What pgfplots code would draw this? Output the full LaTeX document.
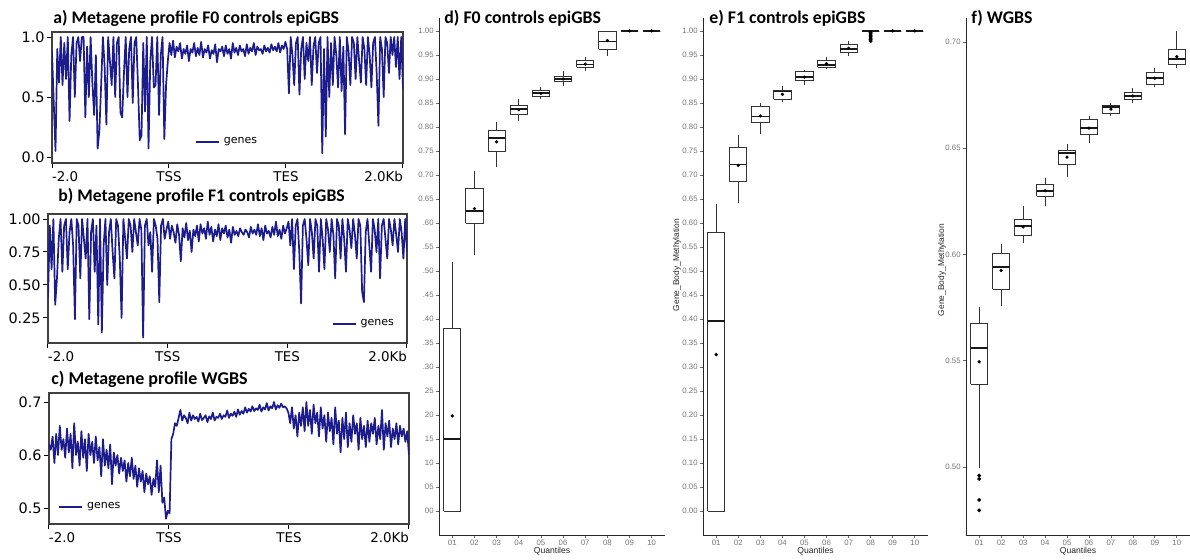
\documentclass[border=0pt]{standalone}
\usepackage{pgfplots}
\pgfplotsset{compat=1.18}
\usepackage{pgfplotstable}
\usepackage{fontspec}
\setmainfont{DejaVu Sans}
\newfontfamily\titlefont{Carlito}
\newfontfamily\arialfont{Liberation Sans}
\definecolor{navy}{RGB}{28,28,140}

\pgfplotstableread[row sep=\\]{
y\\
0.88\\0.45\\0.05\\0.90\\0.62\\1.00\\0.60\\0.95\\0.65\\1.00\\
0.30\\0.85\\1.00\\0.50\\0.95\\1.00\\0.80\\1.00\\1.00\\0.33\\
0.92\\0.50\\1.00\\0.62\\0.35\\0.85\\0.07\\0.22\\0.60\\1.00\\
0.75\\0.27\\1.00\\0.80\\0.60\\1.00\\0.50\\0.95\\1.00\\0.37\\
0.33\\0.70\\1.00\\0.50\\0.90\\1.00\\0.45\\0.95\\1.00\\0.60\\
0.14\\0.18\\0.95\\0.38\\1.00\\0.07\\0.80\\1.00\\0.58\\0.60\\
1.00\\0.35\\0.85\\1.00\\0.15\\0.60\\0.80\\
0.95\\0.85\\0.97\\
0.83\\0.92\\0.88\\0.95\\0.82\\0.90\\0.86\\0.93\\0.80\\0.90\\
0.87\\0.95\\0.84\\0.91\\0.85\\0.96\\0.83\\0.90\\0.87\\0.93\\
0.82\\0.89\\0.86\\0.94\\0.79\\0.90\\0.88\\0.92\\0.84\\0.93\\
0.86\\0.90\\0.82\\0.95\\0.87\\0.91\\0.85\\0.93\\0.88\\0.90\\
0.84\\0.94\\0.86\\0.91\\0.88\\0.95\\0.85\\0.92\\0.89\\0.90\\
0.86\\0.93\\0.88\\0.91\\0.87\\0.94\\0.89\\0.92\\0.88\\0.95\\
0.87\\0.93\\0.90\\0.96\\
0.90\\0.53\\1.00\\0.85\\0.60\\0.95\\
1.00\\0.52\\0.90\\1.00\\0.65\\0.95\\0.80\\1.00\\0.60\\0.92\\
1.00\\0.70\\0.95\\1.00\\0.03\\0.90\\0.17\\1.00\\0.50\\0.95\\
0.60\\1.00\\0.85\\0.58\\1.00\\0.55\\0.92\\0.19\\1.00\\0.88\\
0.60\\1.00\\0.95\\0.65\\1.00\\0.80\\0.62\\1.00\\0.90\\0.60\\
1.00\\0.85\\0.58\\0.95\\1.00\\0.70\\0.26\\1.00\\0.90\\0.50\\
1.00\\0.95\\0.70\\1.00\\0.85\\1.00\\0.75\\1.00\\0.65\\1.00\\
0.57\\
}\tabA

\pgfplotstableread[row sep=\\]{
y\\
0.40\\0.95\\0.62\\1.00\\0.35\\0.55\\0.85\\1.00\\0.60\\0.95\\
1.00\\0.62\\0.90\\1.00\\0.80\\0.24\\1.00\\0.95\\0.55\\1.00\\
0.85\\0.70\\1.00\\0.24\\0.90\\1.00\\0.60\\0.95\\0.20\\1.00\\
0.14\\0.80\\1.00\\0.50\\0.90\\1.00\\0.75\\0.55\\1.00\\0.95\\
0.70\\0.25\\1.00\\0.85\\0.70\\1.00\\0.95\\0.75\\1.00\\0.90\\
0.80\\1.00\\0.92\\0.10\\0.95\\1.00\\0.80\\0.90\\0.60\\1.00\\
0.95\\0.85\\0.37\\0.95\\1.00\\0.85\\0.92\\
0.98\\0.85\\0.95\\
0.90\\0.82\\0.96\\0.88\\0.68\\0.93\\0.86\\0.97\\0.84\\0.91\\
0.75\\0.92\\0.87\\0.95\\0.83\\0.96\\0.89\\0.93\\0.85\\0.98\\
0.88\\0.94\\0.83\\0.92\\0.87\\0.96\\0.84\\0.93\\0.89\\0.95\\
0.86\\0.92\\0.82\\0.94\\0.88\\0.91\\0.87\\0.93\\0.90\\0.88\\
0.92\\0.90\\0.86\\0.94\\0.89\\0.92\\0.88\\0.96\\0.87\\0.93\\
0.84\\0.95\\0.89\\0.91\\0.86\\0.94\\0.88\\0.98\\0.87\\0.92\\
0.85\\0.95\\0.89\\0.93\\
0.98\\0.80\\1.00\\0.62\\0.95\\1.00\\
0.75\\0.36\\0.95\\1.00\\0.85\\0.65\\1.00\\0.90\\0.70\\1.00\\
0.95\\0.60\\1.00\\0.85\\0.62\\1.00\\0.92\\0.75\\1.00\\0.88\\
0.55\\1.00\\0.95\\0.70\\1.00\\0.85\\0.60\\1.00\\0.92\\0.78\\
1.00\\0.88\\0.70\\1.00\\0.95\\0.45\\0.37\\0.90\\1.00\\0.80\\
0.60\\1.00\\0.92\\0.75\\1.00\\0.55\\0.95\\1.00\\0.85\\0.70\\
1.00\\0.92\\0.80\\1.00\\0.88\\0.75\\1.00\\0.90\\0.70\\1.00\\
0.75\\
}\tabB

\pgfplotstableread[row sep=\\]{
y\\
0.620\\0.610\\0.635\\0.585\\0.640\\0.600\\0.655\\0.610\\0.630\\0.595\\
0.650\\0.605\\0.640\\0.575\\0.660\\0.600\\0.625\\0.580\\0.645\\0.595\\
0.630\\0.570\\0.640\\0.600\\0.625\\0.585\\0.635\\0.590\\0.615\\0.560\\
0.630\\0.580\\0.610\\0.575\\0.620\\0.545\\0.605\\0.580\\0.600\\0.565\\
0.595\\0.570\\0.590\\0.550\\0.585\\0.560\\0.595\\0.555\\0.580\\0.540\\
0.575\\0.550\\0.570\\0.530\\0.565\\0.545\\0.560\\0.525\\0.555\\0.540\\
0.590\\0.530\\0.580\\0.510\\0.520\\0.480\\0.495\\
0.490\\0.630\\0.640\\
0.660\\0.655\\0.670\\0.685\\0.665\\0.675\\0.670\\0.660\\0.680\\0.665\\
0.675\\0.668\\0.672\\0.663\\0.678\\0.666\\0.670\\0.675\\0.662\\0.673\\
0.668\\0.680\\0.665\\0.672\\0.670\\0.678\\0.668\\0.675\\0.672\\0.684\\
0.670\\0.678\\0.674\\0.682\\0.672\\0.686\\0.676\\0.683\\0.678\\0.690\\
0.680\\0.687\\0.682\\0.692\\0.683\\0.688\\0.685\\0.695\\0.682\\0.690\\
0.686\\0.698\\0.684\\0.692\\0.688\\0.700\\0.686\\0.694\\0.689\\0.697\\
0.690\\0.692\\0.688\\0.680\\
0.660\\0.690\\0.650\\0.675\\0.635\\0.680\\
0.655\\0.690\\0.645\\0.700\\0.655\\0.685\\0.640\\0.695\\0.660\\0.680\\
0.635\\0.690\\0.650\\0.675\\0.625\\0.680\\0.645\\0.670\\0.620\\0.690\\
0.640\\0.665\\0.605\\0.670\\0.630\\0.680\\0.615\\0.660\\0.625\\0.675\\
0.640\\0.660\\0.610\\0.670\\0.630\\0.655\\0.615\\0.665\\0.625\\0.660\\
0.640\\0.670\\0.620\\0.655\\0.630\\0.685\\0.610\\0.660\\0.635\\0.665\\
0.615\\0.650\\0.630\\0.660\\0.620\\0.655\\0.635\\0.650\\0.625\\0.645\\
0.600\\
}\tabC

\pgfplotsset{
  meta/.style={scale only axis, anchor=south west, xmin=0, xmax=3,
    xtick={0,1,2,3},
    xticklabels={\makebox[0pt][l]{-2.0},TSS,TES,\makebox[0pt][r]{2.0Kb}},
    tick pos=left, tick align=outside, major tick length=2.5pt,
    tick style={black, line width=0.5pt},
    axis line style={black!75, line width=0.6pt},
    yticklabel style={font=\fontsize{7.2}{8}\selectfont, inner sep=1pt},
    xticklabel style={font=\fontsize{6.7}{8}\selectfont, inner sep=1.5pt},
    legend style={draw=none, fill=none, font=\fontsize{5.5}{6}\selectfont, inner sep=0pt},
    legend image code/.code={\draw[##1] (0pt,0pt) -- (11.5pt,0pt);},
  },
  qbox/.style={scale only axis, anchor=south west, xmin=0.4, xmax=10.6,
    xtick={1,2,3,4,5,6,7,8,9,10},
    xticklabels={01,02,03,04,05,06,07,08,09,10},
    axis lines=left, axis line style={-, black!85, line width=0.5pt},
    tick align=outside, major tick length=1.5pt,
    tick style={black!60, line width=0.4pt},
    ticklabel style={font=\arialfont\fontsize{3.9}{4.5}\selectfont, text=black!55},
    xticklabel style={inner sep=1pt}, yticklabel style={inner sep=1pt},
    clip=false,
  },
  boxline/.style={draw=black!80, line width=0.45pt, line join=miter, mark=none, forget plot},
  medline/.style={draw=black!90, line width=0.9pt, mark=none, forget plot},
}
% #1 left, #2 centre, #3 right, #4 lower whisker, #5 lower quartile, #6 median, #7 upper quartile, #8 upper whisker
\newcommand{\qbox}[8]{%
\addplot[boxline] coordinates {(#2,#4) (#2,#5)};
\addplot[boxline] coordinates {(#2,#7) (#2,#8)};
\addplot[boxline] coordinates {(#1,#5) (#3,#5) (#3,#7) (#1,#7) (#1,#5)};
\addplot[medline] coordinates {(#1,#6) (#3,#6)};
}

\begin{document}
\begin{tikzpicture}
% ---------- a ----------
\begin{axis}[meta, at={(26pt,198pt)}, width=175.5pt, height=65.5pt,
  ymin=-0.05, ymax=1.042, ytick={0,0.5,1}, yticklabels={0.0,0.5,1.0},
  legend style={at={(0.407,0.16)}, anchor=west}]
\addplot[navy, line width=0.85pt, line join=round] table[x expr=\coordindex*0.015, y=y]{\tabA};
\addlegendentry{genes}
\end{axis}
% ---------- b ----------
\begin{axis}[meta, at={(24pt,108pt)}, width=179.5pt, height=64.5pt,
  ymin=0.06, ymax=1.038, ytick={0.25,0.5,0.75,1}, yticklabels={0.25,0.50,0.75,1.00},
  legend style={at={(0.79,0.147)}, anchor=west}]
\addplot[navy, line width=0.85pt, line join=round] table[x expr=\coordindex*0.015, y=y]{\tabB};
\addlegendentry{genes}
\end{axis}
% ---------- c ----------
\begin{axis}[meta, at={(24.5pt,17.5pt)}, width=180pt, height=65.5pt,
  ymin=0.47, ymax=0.717, ytick={0.5,0.6,0.7}, yticklabels={0.5,0.6,0.7},
  legend style={at={(0.025,0.13)}, anchor=west}]
\addplot[navy, line width=0.85pt, line join=round] table[x expr=\coordindex*0.015, y=y]{\tabC};
\addlegendentry{genes}
\end{axis}
% ---------- d ----------
\begin{axis}[qbox, at={(219.5pt,12pt)}, width=113pt, height=258.5pt,
  ymin=-0.05, ymax=1.027,
  ytick={0,0.05,0.1,0.15,0.2,0.25,0.3,0.35,0.4,0.45,0.5,0.55,0.6,0.65,0.7,0.75,0.8,0.85,0.9,0.95,1},
  yticklabels={00,05,10,15,20,25,.30,.35,.40,.45,.50,.55,.60,0.65,0.70,0.75,0.80,0.85,0.90,0.95,1.00}]
\qbox{0.61}{1}{1.39}{0}{0}{0.15}{0.38}{0.519}
\qbox{1.61}{2}{2.39}{0.533}{0.60}{0.625}{0.671}{0.709}
\qbox{2.61}{3}{3.39}{0.716}{0.75}{0.777}{0.792}{0.81}
\qbox{3.61}{4}{4.39}{0.812}{0.826}{0.8375}{0.845}{0.858}
\qbox{4.61}{5}{5.39}{0.858}{0.864}{0.87}{0.876}{0.884}
\qbox{5.61}{6}{6.39}{0.886}{0.894}{0.90}{0.906}{0.917}
\qbox{6.61}{7}{7.39}{0.917}{0.924}{0.93}{0.939}{0.946}
\qbox{7.61}{8}{8.39}{0.948}{0.9625}{0.978}{1.0}{1.0}
\qbox{8.61}{9}{9.39}{1}{1}{1}{1}{1}
\qbox{9.61}{10}{10.39}{1}{1}{1}{1}{1}
\addplot[only marks, mark=*, mark size=0.6pt, black] coordinates {(1,0.198) (2,0.63) (3,0.769) (4,0.836) (5,0.87) (6,0.90) (7,0.931) (8,0.98) (9,1.0) (10,1.0)};
\end{axis}
% ---------- e ----------
\begin{axis}[qbox, at={(351.5pt,12pt)}, width=112.5pt, height=258.5pt,
  ymin=-0.05, ymax=1.027,
  ytick={0,0.05,0.1,0.15,0.2,0.25,0.3,0.35,0.4,0.45,0.5,0.55,0.6,0.65,0.7,0.75,0.8,0.85,0.9,0.95,1},
  yticklabels={0.00,0.05,0.10,0.15,0.20,0.25,0.30,0.35,0.40,0.45,0.50,0.55,0.60,0.65,0.70,0.75,0.80,0.85,0.90,0.95,1.00}]
\qbox{0.61}{1}{1.39}{0}{0}{0.395}{0.58}{0.64}
\qbox{1.61}{2}{2.39}{0.642}{0.686}{0.722}{0.757}{0.784}
\qbox{2.61}{3}{3.39}{0.785}{0.809}{0.822}{0.843}{0.85}
\qbox{3.61}{4}{4.39}{0.852}{0.858}{0.874}{0.876}{0.885}
\qbox{4.61}{5}{5.39}{0.888}{0.896}{0.904}{0.915}{0.918}
\qbox{5.61}{6}{6.39}{0.92}{0.925}{0.929}{0.939}{0.945}
\qbox{6.61}{7}{7.39}{0.947}{0.956}{0.963}{0.972}{0.979}
\qbox{7.61}{8}{8.39}{1}{1}{1}{1}{1}
\qbox{8.61}{9}{9.39}{1}{1}{1}{1}{1}
\qbox{9.61}{10}{10.39}{1}{1}{1}{1}{1}
\addplot[only marks, mark=*, mark size=0.6pt, black] coordinates {(1,0.326) (2,0.72) (3,0.823) (4,0.868) (5,0.904) (6,0.932) (7,0.964) (9,1.0) (10,1.0)};
\addplot[only marks, mark=*, mark size=0.75pt, black] coordinates {(8,0.997) (8,0.994) (8,0.991) (8,0.988) (8,0.985) (8,0.982) (8,0.979)};
\end{axis}
% ---------- f ----------
\begin{axis}[qbox, at={(483pt,12pt)}, width=112pt, height=258.5pt,
  ymin=0.468, ymax=0.7113,
  ytick={0.5,0.55,0.6,0.65,0.7}, yticklabels={0.50,0.55,0.60,0.65,0.70}]
\qbox{0.61}{1}{1.39}{0.4995}{0.539}{0.556}{0.5675}{0.5755}
\qbox{1.61}{2}{2.39}{0.5759}{0.5837}{0.594}{0.6003}{0.605}
\qbox{2.61}{3}{3.39}{0.6056}{0.6088}{0.6135}{0.6167}{0.6226}
\qbox{3.61}{4}{4.39}{0.6229}{0.6273}{0.630}{0.6331}{0.6362}
\qbox{4.61}{5}{5.39}{0.6367}{0.6425}{0.6477}{0.649}{0.652}
\qbox{5.61}{6}{6.39}{0.6524}{0.6563}{0.6595}{0.6634}{0.665}
\qbox{6.61}{7}{7.39}{0.665}{0.6665}{0.6695}{0.67}{0.6712}
\qbox{7.61}{8}{8.39}{0.6715}{0.6731}{0.6746}{0.6762}{0.6783}
\qbox{8.61}{9}{9.39}{0.6787}{0.6798}{0.683}{0.6856}{0.6877}
\qbox{9.61}{10}{10.39}{0.688}{0.6896}{0.692}{0.6966}{0.7052}
\addplot[only marks, mark=*, mark size=0.6pt, black] coordinates {(1,0.5495) (2,0.5925) (3,0.613) (4,0.630) (5,0.6458) (6,0.6595) (7,0.6684) (8,0.6746) (9,0.683) (10,0.6931)};
\addplot[only marks, mark=*, mark size=0.75pt, black] coordinates {(1,0.496) (1,0.4944) (1,0.4845) (1,0.4796)};
\end{axis}
% ---------- titles & labels ----------
\begin{scope}[every node/.style={inner sep=0pt}]
\node[anchor=west, font=\titlefont\bfseries\fontsize{8.85}{10}\selectfont] at (26.5pt,270.5pt) {a) Metagene profile F0 controls epiGBS};
\node[anchor=west, font=\titlefont\bfseries\fontsize{8.85}{10}\selectfont] at (29pt,181.5pt) {b) Metagene profile F1 controls epiGBS};
\node[anchor=west, font=\titlefont\bfseries\fontsize{9}{10}\selectfont] at (25.5pt,90pt) {c) Metagene profile WGBS};
\node[anchor=west, font=\titlefont\bfseries\fontsize{8.9}{10}\selectfont] at (222pt,270.5pt) {d) F0 controls epiGBS};
\node[anchor=west, font=\titlefont\bfseries\fontsize{8.9}{10}\selectfont] at (354.5pt,270.5pt) {e) F1 controls epiGBS};
\node[anchor=west, font=\titlefont\bfseries\fontsize{8.9}{10}\selectfont] at (485.5pt,270.5pt) {f) WGBS};
\node[font=\arialfont\fontsize{4.3}{5}\selectfont, text=black!85] at (276pt,4pt) {Quantiles};
\node[font=\arialfont\fontsize{4.3}{5}\selectfont, text=black!85] at (407.75pt,4pt) {Quantiles};
\node[font=\arialfont\fontsize{4.3}{5}\selectfont, text=black!85] at (539pt,4pt) {Quantiles};
\node[rotate=90, font=\arialfont\fontsize{4.2}{5}\selectfont, text=black!85] at (338.5pt,147pt) {Gene\_Body\_Methylation};
\node[rotate=90, font=\arialfont\fontsize{4.2}{5}\selectfont, text=black!85] at (471pt,144.5pt) {Gene\_Body\_Methylation};
\end{scope}
\pgfresetboundingbox
\path[use as bounding box] (0,0) rectangle (595pt,279.5pt);
\end{tikzpicture}
\end{document}
